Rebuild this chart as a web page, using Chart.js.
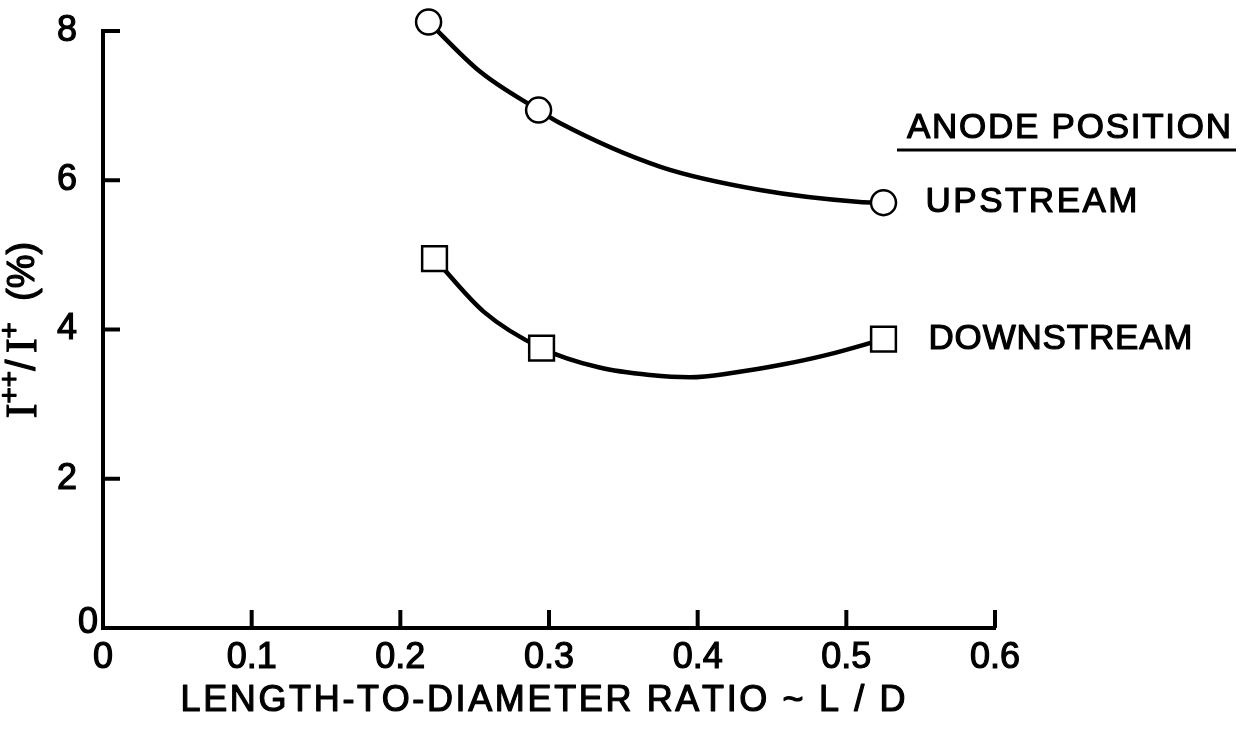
<!DOCTYPE html>
<html>
<head>
<meta charset="utf-8">
<script src="https://cdn.jsdelivr.net/npm/chart.js@4.4.0/dist/chart.umd.min.js"></script>
<style>
  body { margin: 0; background: #fff; }
  #wrap { width: 1240px; height: 730px; }
</style>
</head>
<body>
<div id="wrap"><canvas id="grafico" width="1240" height="730"></canvas></div>
<script>
// valores
const xTicks = [0, 0.1, 0.2, 0.3, 0.4, 0.5, 0.6];
const yTicks = [0, 2, 4, 6, 8];

const upX = [0.219, 0.293, 0.525];
const upY = [8.12, 6.94, 5.70];
const downX = [0.223, 0.295, 0.525];
const downY = [4.95, 3.75, 3.87];

// curvas ajustadas, tracadas a mao na figura
const upCurveX = [0.219, 0.254, 0.293, 0.307, 0.375, 0.442, 0.509, 0.525];
const upCurveY = [8.12, 7.45, 6.94, 6.77, 6.18, 5.87, 5.71, 5.70];
const downCurveX = [0.223, 0.256, 0.295, 0.334, 0.368, 0.395, 0.424, 0.457, 0.487, 0.525];
const downCurveY = [4.95, 4.24, 3.75, 3.49, 3.39, 3.36, 3.42, 3.53, 3.66, 3.87];

const labels = ['UPSTREAM', 'DOWNSTREAM'];
const legendTitle = 'ANODE POSITION';
const xTitle = 'LENGTH-TO-DIAMETER RATIO ~ L / D';

const FONT = '"Liberation Sans", Arial, sans-serif';
const pts = (xs, ys) => xs.map((x, i) => ({ x, y: ys[i] }));

// texto com espacamento entre letras ajustado a uma largura
function spacedText(ctx, text, x, y, width, align) {
  const ws = [...text].map(c => ctx.measureText(c).width);
  const natural = ws.reduce((a, b) => a + b, 0);
  const gap = (width - natural) / (text.length - 1);
  let cx = align === 'center' ? x - width / 2 : x;
  [...text].forEach((c, i) => {
    ctx.strokeText(c, cx, y);
    ctx.fillText(c, cx, y);
    cx += ws[i] + gap;
  });
}

// I++/I+ (%) montado em pedacos
function yTitle(ctx) {
  const parts = [
    ['I', '44px "Liberation Serif", serif', 0],
    ['++', '28px ' + FONT, -14],
    ['/', '40px ' + FONT, 0],
    [' ', '24px ' + FONT, 0],
    ['I', '44px "Liberation Serif", serif', 0],
    ['+', '28px ' + FONT, -14],
    ['  (%)', '38px ' + FONT, 0]
  ];
  let w = 0;
  parts.forEach(p => { ctx.font = p[1]; w += ctx.measureText(p[0]).width; });
  let cx = -w / 2;
  parts.forEach(p => {
    ctx.font = p[1];
    ctx.strokeText(p[0], cx, p[2]);
    ctx.fillText(p[0], cx, p[2]);
    cx += ctx.measureText(p[0]).width;
  });
}

const extras = {
  id: 'extras',
  afterDraw(chart) {
    const { ctx, scales: { x, y }, chartArea } = chart;
    ctx.save();
    ctx.strokeStyle = '#000';
    ctx.fillStyle = '#000';
    ctx.lineWidth = 4;
    ctx.lineCap = 'butt';
    // marcas para dentro
    xTicks.slice(1).forEach(v => {
      const px = x.getPixelForValue(v);
      ctx.beginPath();
      ctx.moveTo(px, chartArea.bottom);
      ctx.lineTo(px, chartArea.bottom - 18);
      ctx.stroke();
    });
    yTicks.slice(1).forEach(v => {
      const py = y.getPixelForValue(v);
      ctx.beginPath();
      ctx.moveTo(chartArea.left, py);
      ctx.lineTo(chartArea.left + 17, py);
      ctx.stroke();
    });

    ctx.lineWidth = 1.2;
    ctx.lineJoin = 'round';
    ctx.textBaseline = 'middle';
    // zero do eixo y
    ctx.font = '36px ' + FONT;
    ctx.textAlign = 'right';
    ctx.strokeText('0', chartArea.left - 5, y.getPixelForValue(0) - 5);
    ctx.fillText('0', chartArea.left - 5, y.getPixelForValue(0) - 5);
    ctx.textAlign = 'left';

    // titulo do eixo x
    ctx.font = '36px ' + FONT;
    spacedText(ctx, xTitle, (chartArea.left + chartArea.right) / 2 - 6, 701, 725, 'center');

    // titulo do eixo y
    ctx.save();
    ctx.translate(24, 330);
    ctx.rotate(-Math.PI / 2);
    yTitle(ctx);
    ctx.restore();

    // legenda
    ctx.font = '35px ' + FONT;
    spacedText(ctx, legendTitle, 907, 128, 324, 'left');
    ctx.lineWidth = 3;
    ctx.beginPath();
    ctx.moveTo(897, 150);
    ctx.lineTo(1236, 150);
    ctx.stroke();
    ctx.lineWidth = 1.2;

    const lastUp = chart.getDatasetMeta(0).data[upX.length - 1];
    const lastDown = chart.getDatasetMeta(1).data[downX.length - 1];
    spacedText(ctx, labels[0], lastUp.x + 42, lastUp.y, 212, 'left');
    spacedText(ctx, labels[1], lastDown.x + 45, lastDown.y, 264, 'left');
    ctx.restore();
  }
};

new Chart(document.getElementById('grafico').getContext('2d'), {
  type: 'scatter',
  data: {
    datasets: [
      {
        label: labels[0],
        data: pts(upX, upY),
        pointStyle: 'circle',
        pointRadius: 12.5,
        pointBorderWidth: 2.5,
        pointBackgroundColor: '#fff',
        pointBorderColor: '#000',
        clip: false,
        order: 1
      },
      {
        label: labels[1],
        data: pts(downX, downY),
        pointStyle: 'rect',
        pointRadius: 17.5,
        pointBorderWidth: 2.5,
        pointBackgroundColor: '#fff',
        pointBorderColor: '#000',
        clip: false,
        order: 1
      },
      {
        label: 'fit up',
        type: 'line',
        data: pts(upCurveX, upCurveY),
        borderColor: '#000',
        borderWidth: 4.5,
        pointRadius: 0,
        cubicInterpolationMode: 'monotone',
        clip: false,
        order: 2
      },
      {
        label: 'fit down',
        type: 'line',
        data: pts(downCurveX, downCurveY),
        borderColor: '#000',
        borderWidth: 4.5,
        pointRadius: 0,
        cubicInterpolationMode: 'monotone',
        clip: false,
        order: 2
      }
    ]
  },
  options: {
    responsive: false,
    animation: false,
    layout: { padding: { top: 31, right: 245, left: 0, bottom: 0 } },
    plugins: { legend: { display: false }, tooltip: { enabled: false } },
    scales: {
      x: {
        type: 'linear',
        min: 0,
        max: 0.6,
        afterBuildTicks: s => { s.ticks = xTicks.map(v => ({ value: v })); },
        afterFit: s => { s.height = 102; s.paddingLeft = 0; s.paddingRight = 0; },
        ticks: {
          color: '#000',
          padding: 8,
          font: { family: FONT, size: 36 },
          textStrokeColor: '#000',
          textStrokeWidth: 1.2,
          callback: v => (v === 0 ? '0' : v.toFixed(1))
        },
        grid: { drawOnChartArea: false, drawTicks: false },
        border: { display: true, color: '#000', width: 4 }
      },
      y: {
        min: 0,
        max: 8,
        afterBuildTicks: s => { s.ticks = yTicks.map(v => ({ value: v })); },
        afterFit: s => { s.width = 103; s.paddingTop = 0; s.paddingBottom = 0; },
        ticks: {
          color: '#000',
          padding: 26,
          font: { family: FONT, size: 36 },
          textStrokeColor: '#000',
          textStrokeWidth: 1.2,
          callback: v => (v === 0 ? '' : String(v))
        },
        grid: { drawOnChartArea: false, drawTicks: false },
        border: { display: true, color: '#000', width: 4 }
      }
    }
  },
  plugins: [extras]
});
</script>
</body>
</html>
